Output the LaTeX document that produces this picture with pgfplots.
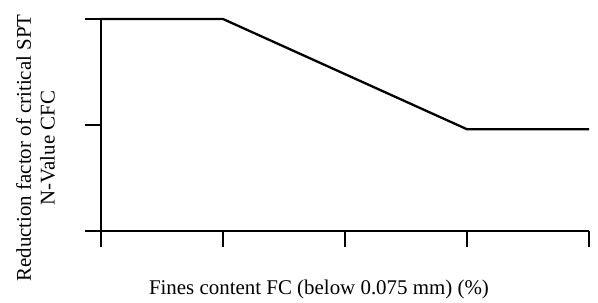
\documentclass[border=0pt]{standalone}
\usepackage{pgfplots}
\pgfplotsset{compat=1.18}
\usepackage{fontspec}
\setmainfont{Liberation Serif}
\begin{document}
\begin{tikzpicture}
\begin{axis}[
  name=ax,
  scale only axis,
  width=488bp, height=212bp,
  xmin=0, xmax=4, ymin=0, ymax=1,
  axis lines=left,
  axis line style={-, line width=2.3bp},
  xtick={0,1,2,3,4}, ytick={0,0.5,1},
  xticklabels={}, yticklabels={},
  tick align=outside,
  major tick length=16bp,
  tick style={line width=2.3bp, black},
  clip=false,
]
\addplot[black, line width=2.3bp] coordinates {(0,1) (1,1) (3,0.48) (4,0.48)};
\end{axis}
\node[font=\fontsize{21}{24}\selectfont, anchor=center] at ([xshift=218bp,yshift=-58bp]ax.south west) {Fines content FC (below 0.075 mm) (\%)};
\node[font=\fontsize{21}{24}\selectfont, rotate=90, align=center, anchor=center] at ([xshift=-65.5bp,yshift=83bp]ax.south west) {Reduction factor of critical SPT\\N-Value CFC};
\useasboundingbox ([xshift=-101bp,yshift=-72bp]ax.south west) rectangle ([xshift=9bp,yshift=19bp]ax.north east);
\end{tikzpicture}
\end{document}
